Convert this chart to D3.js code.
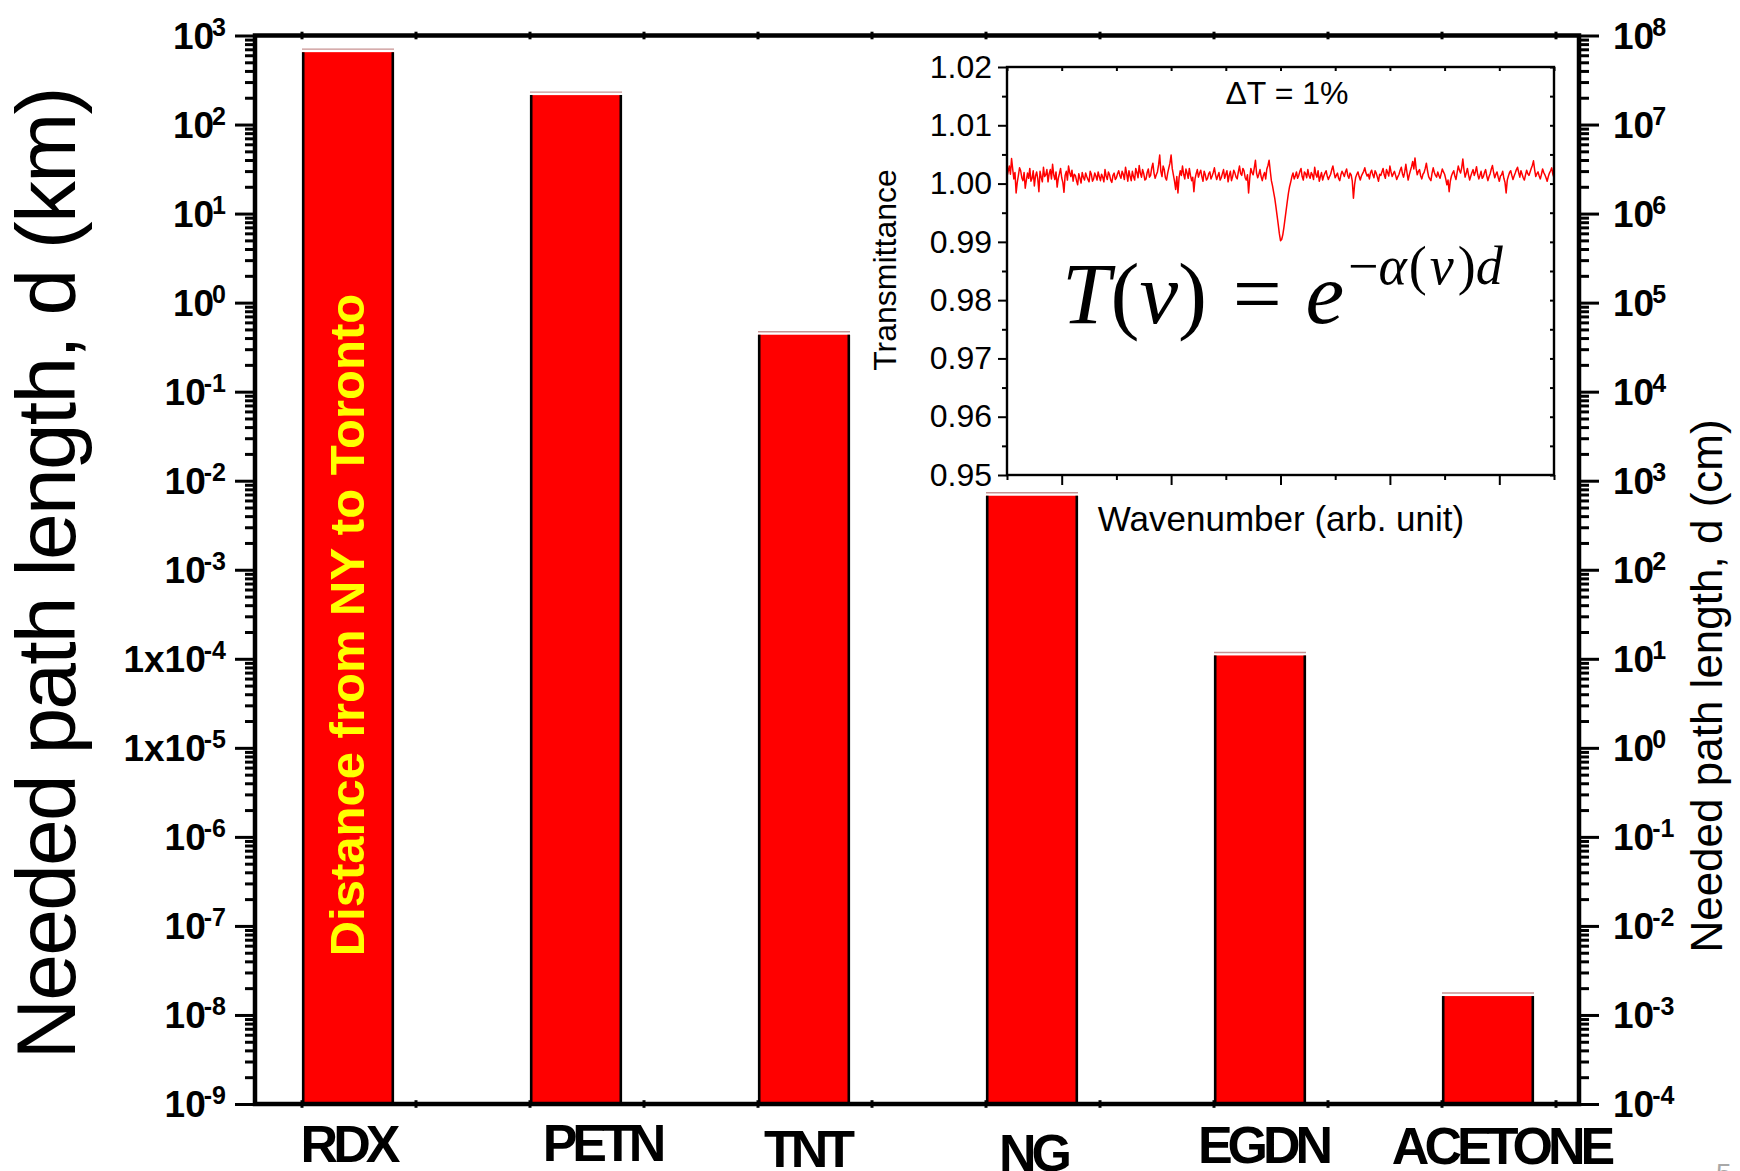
<!DOCTYPE html>
<html>
<head>
<meta charset="utf-8">
<script src="https://cdn.jsdelivr.net/npm/d3@7"></script>
<style>
  html, body { margin: 0; padding: 0; background: #ffffff; }
  svg { display: block; }
  text { font-family: "Liberation Sans", Arial, Helvetica, sans-serif; }
</style>
</head>
<body>
<svg id="chart" width="1740" height="1171"></svg>
<script>
// ---- data -------------------------------------------------------------
const compounds = ["RDX", "PETN", "TNT", "NG", "EGDN", "ACETONE"];
// needed path length d (km) for a 1% transmittance change
const pathLengthKm = [650, 214, 0.436, 0.00678, 1.09e-4, 1.63e-8];

const leftTickValues = [1e3, 1e2, 1e1, 1e0, 1e-1, 1e-2, 1e-3, 1e-4, 1e-5, 1e-6, 1e-7, 1e-8, 1e-9];
const leftTickBase = ["10", "10", "10", "10", "10", "10", "10", "1x10", "1x10", "10", "10", "10", "10"];
const leftTickExp = ["3", "2", "1", "0", "-1", "-2", "-3", "-4", "-5", "-6", "-7", "-8", "-9"];

const rightTickValues = [1e8, 1e7, 1e6, 1e5, 1e4, 1e3, 1e2, 1e1, 1e0, 1e-1, 1e-2, 1e-3, 1e-4];
const rightTickExp = ["8", "7", "6", "5", "4", "3", "2", "1", "0", "-1", "-2", "-3", "-4"];

const noteText = "Distance from NY to Toronto";

// inset: transmittance spectrum across the wavenumber window (arb. unit 0..10)
const insetYTicks = [0.95, 0.96, 0.97, 0.98, 0.99, 1.00, 1.01, 1.02];
const insetXTicks = [0, 1, 2, 3, 4, 5, 6, 7, 8, 9, 10];
const insetWavenumberSpan = [0, 10];
const insetTransmittance = [
  1.0012, 1.0021, 1.0030, 1.0016, 1.0043, 1.0025, 1.0008, 1.0019, 0.9984, 1.0002, 1.0014, 1.0027, 1.0022, 1.0010, 1.0005, 1.0019, 0.9992, 1.0006, 1.0018, 1.0009,
  1.0026, 1.0004, 1.0009, 1.0022, 0.9996, 1.0013, 1.0020, 1.0008, 0.9986, 1.0021, 1.0011, 1.0003, 1.0028, 1.0012, 1.0015, 1.0024, 1.0003, 1.0017, 1.0024, 1.0008,
  1.0033, 1.0015, 1.0007, 1.0020, 0.9994, 1.0009, 1.0017, 1.0026, 1.0010, 1.0002, 0.9985, 1.0014, 1.0021, 1.0006, 1.0030, 1.0019, 1.0012, 1.0023, 1.0004, 1.0016,
  1.0014, 1.0005, 0.9998, 1.0017, 1.0009, 1.0001, 1.0019, 1.0011, 1.0006, 1.0018, 1.0012, 1.0007, 1.0003, 1.0021, 1.0016, 1.0004, 1.0008, 1.0018, 1.0013, 1.0006,
  1.0020, 1.0012, 1.0005, 1.0016, 1.0011, 1.0003, 1.0024, 1.0013, 1.0007, 1.0020, 1.0015, 1.0006, 1.0002, 1.0014, 1.0018, 1.0007, 1.0010, 1.0017, 1.0022, 1.0014,
  1.0009, 1.0021, 1.0016, 1.0007, 1.0028, 1.0017, 1.0004, 1.0022, 1.0013, 1.0005, 1.0021, 1.0012, 1.0006, 1.0026, 1.0019, 1.0010, 1.0031, 1.0018, 1.0011, 1.0024,
  1.0017, 1.0006, 1.0008, 1.0019, 1.0025, 1.0011, 1.0014, 1.0027, 1.0035, 1.0018, 1.0009, 1.0015, 1.0020, 1.0032, 1.0049, 1.0021, 1.0012, 1.0030, 1.0024, 1.0010,
  1.0006, 1.0018, 1.0027, 1.0035, 1.0049, 1.0026, 1.0015, 1.0004, 0.9990, 1.0012, 0.9984, 1.0010, 1.0022, 1.0014, 1.0030, 1.0016, 1.0008, 1.0025, 1.0018, 1.0009,
  1.0026, 1.0014, 1.0005, 1.0011, 0.9986, 1.0008, 1.0017, 1.0024, 1.0011, 1.0018, 1.0023, 1.0012, 1.0004, 1.0021, 1.0015, 1.0006, 1.0009, 1.0017, 1.0020, 1.0008,
  1.0013, 1.0019, 1.0027, 1.0015, 1.0007, 1.0013, 1.0019, 1.0006, 1.0010, 1.0017, 1.0024, 1.0009, 1.0016, 1.0022, 1.0003, 1.0014, 1.0021, 1.0005, 1.0012, 1.0023,
  1.0018, 1.0011, 1.0008, 1.0020, 1.0030, 1.0017, 1.0014, 1.0026, 1.0022, 1.0010, 1.0006, 1.0015, 0.9984, 1.0009, 1.0026, 1.0019, 1.0015, 1.0027, 1.0040, 1.0018,
  1.0010, 1.0016, 1.0024, 1.0012, 1.0005, 1.0014, 1.0019, 1.0008, 1.0025, 1.0031, 1.0040, 1.0022, 1.0005, 0.9996, 0.9985, 0.9974, 0.9960, 0.9945, 0.9930, 0.9914,
  0.9902, 0.9904, 0.9912, 0.9925, 0.9940, 0.9955, 0.9970, 0.9984, 0.9995, 1.0003, 1.0012, 1.0018, 1.0008, 1.0013, 1.0020, 1.0009, 1.0014, 1.0021, 1.0026, 1.0012,
  1.0006, 1.0020, 1.0017, 1.0010, 1.0024, 1.0014, 1.0009, 1.0019, 1.0015, 1.0007, 1.0028, 1.0016, 1.0011, 1.0022, 1.0004, 1.0012, 1.0019, 1.0006, 1.0013, 1.0018,
  1.0022, 1.0013, 1.0007, 1.0012, 1.0016, 1.0024, 1.0030, 1.0019, 1.0010, 1.0014, 1.0018, 1.0009, 1.0005, 1.0015, 1.0021, 1.0017, 1.0012, 1.0020, 1.0025, 1.0014,
  1.0009, 1.0018, 1.0015, 1.0004, 0.9975, 0.9998, 1.0011, 1.0016, 1.0020, 1.0012, 1.0006, 1.0013, 1.0017, 1.0021, 1.0027, 1.0018, 1.0013, 1.0016, 1.0008, 1.0019,
  1.0023, 1.0015, 1.0010, 1.0022, 1.0018, 1.0011, 1.0004, 1.0016, 1.0014, 1.0020, 1.0026, 1.0015, 1.0009, 1.0024, 1.0019, 1.0013, 1.0030, 1.0020, 1.0012, 1.0017,
  1.0021, 1.0014, 1.0007, 1.0012, 1.0016, 1.0023, 1.0028, 1.0017, 1.0011, 1.0020, 1.0033, 1.0019, 1.0006, 1.0015, 1.0022, 1.0029, 1.0038, 1.0025, 1.0044, 1.0026,
  1.0015, 1.0021, 1.0024, 1.0013, 1.0008, 1.0016, 1.0019, 1.0026, 1.0035, 1.0022, 1.0012, 1.0008, 1.0005, 1.0018, 1.0027, 1.0019, 1.0014, 1.0011, 1.0020, 1.0014,
  1.0009, 1.0017, 1.0025, 1.0020, 1.0016, 1.0008, 0.9998, 1.0006, 0.9986, 1.0004, 1.0013, 1.0018, 1.0022, 1.0013, 1.0007, 1.0019, 1.0030, 1.0023, 1.0018, 1.0027,
  1.0042, 1.0024, 1.0011, 1.0018, 1.0026, 1.0015, 1.0006, 1.0013, 1.0019, 1.0024, 1.0014, 1.0020, 1.0029, 1.0016, 1.0008, 1.0014, 1.0021, 1.0009, 1.0012, 1.0019,
  1.0024, 1.0013, 1.0005, 1.0012, 1.0017, 1.0025, 1.0031, 1.0019, 1.0010, 1.0016, 1.0020, 1.0011, 1.0004, 1.0013, 1.0015, 1.0021, 1.0009, 1.0002, 0.9984, 1.0006,
  1.0013, 1.0019, 1.0022, 1.0014, 1.0007, 1.0013, 1.0018, 1.0024, 1.0028, 1.0019, 1.0011, 1.0022, 1.0016, 1.0010, 1.0006, 1.0015, 1.0023, 1.0017, 1.0014, 1.0020,
  1.0026, 1.0031, 1.0039, 1.0024, 1.0012, 1.0017, 1.0020, 1.0013, 1.0008, 1.0016, 1.0025, 1.0019, 1.0015, 1.0010, 1.0004, 1.0012, 1.0018, 1.0022, 1.0027, 1.0016,
  1.0010
];

// ---- layout -----------------------------------------------------------
const svg = d3.select("#chart");
const plot = { left: 255, right: 1579, top: 35.5, bottom: 1104 };
const labelNudge = [
  { dx: 0, base: 1162 }, { dx: 26, base: 1161 }, { dx: 3, base: 1167 },
  { dx: 1, base: 1171 }, { dx: 3, base: 1163 }, { dx: 13, base: 1164 }
];

const x = d3.scaleBand().domain(compounds).range([234, 1602])
  .paddingInner(0.5965).paddingOuter(0.29825);
const y = d3.scaleLog().domain([1e-9, 1e3]).range([plot.bottom, plot.top]);
const yCm = d3.scaleLog().domain([1e-4, 1e8]).range([plot.bottom, plot.top]);

// minor tick positions (2..9 within each decade)
function minorTicks(lo, hi) {
  const out = [];
  for (let e = lo; e < hi; e++) for (let m = 2; m <= 9; m++) out.push(m * Math.pow(10, e));
  return out;
}

// ---- bars -------------------------------------------------------------
const bars = svg.append("g").attr("class", "bars");
const barData = compounds.map((c, i) => ({ c, v: pathLengthKm[i] }));

bars.selectAll("rect.bar").data(barData).join("rect")
  .attr("class", "bar")
  .attr("x", d => x(d.c))
  .attr("y", d => y(d.v))
  .attr("width", x.bandwidth())
  .attr("height", d => plot.bottom - y(d.v))
  .attr("fill", "#ff0000");

// dark side edges
bars.selectAll("line.edgeL").data(barData).join("line")
  .attr("x1", d => x(d.c) + 1.2).attr("x2", d => x(d.c) + 1.2)
  .attr("y1", d => y(d.v)).attr("y2", plot.bottom)
  .attr("stroke", "#000").attr("stroke-width", 2.6);
bars.selectAll("line.edgeR").data(barData).join("line")
  .attr("x1", d => x(d.c) + x.bandwidth() - 1.2).attr("x2", d => x(d.c) + x.bandwidth() - 1.2)
  .attr("y1", d => y(d.v)).attr("y2", plot.bottom)
  .attr("stroke", "#000").attr("stroke-width", 2.6);
// faint cap line over each bar
bars.selectAll("line.cap").data(barData).join("line")
  .attr("x1", d => x(d.c)).attr("x2", d => x(d.c) + x.bandwidth())
  .attr("y1", d => y(d.v) - 3).attr("y2", d => y(d.v) - 3)
  .attr("stroke", "#c89292").attr("stroke-width", 1.4);

// annotation inside the RDX bar
svg.append("text")
  .attr("transform", `translate(${x("RDX") + x.bandwidth() / 2 + 16},${(y(pathLengthKm[0]) + plot.bottom) / 2 + 47}) rotate(-90)`)
  .attr("text-anchor", "middle")
  .style("font-size", "49px").style("font-weight", "bold")
  .attr("fill", "#ffff00")
  .text(noteText);

// ---- axes -------------------------------------------------------------
const leftAxis = svg.append("g").attr("transform", `translate(${plot.left},0)`);
leftAxis.call(d3.axisLeft(y).tickValues(leftTickValues).tickSize(20).tickSizeOuter(0).tickFormat(""));
leftAxis.append("g").call(d3.axisLeft(y).tickValues(minorTicks(-9, 3)).tickSize(10).tickSizeOuter(0).tickFormat(""));
leftAxis.selectAll(".domain").remove();
leftAxis.selectAll(".tick line").attr("stroke", "#000").attr("stroke-width", 3);

const rightAxis = svg.append("g").attr("transform", `translate(${plot.right},0)`);
rightAxis.call(d3.axisRight(yCm).tickValues(rightTickValues).tickSize(20).tickSizeOuter(0).tickFormat(""));
rightAxis.append("g").call(d3.axisRight(yCm).tickValues(minorTicks(-4, 8)).tickSize(10).tickSizeOuter(0).tickFormat(""));
rightAxis.selectAll(".domain").remove();
rightAxis.selectAll(".tick line").attr("stroke", "#000").attr("stroke-width", 3);

// tick labels with superscript exponents
const leftLabels = svg.append("g").style("font-weight", "bold");
leftTickValues.forEach((v, i) => {
  const t = leftLabels.append("text")
    .attr("x", 226).attr("y", y(v) + 13)
    .attr("text-anchor", "end");
  t.append("tspan").style("font-size", "37px").text(leftTickBase[i]);
  t.append("tspan").style("font-size", "25px").attr("dy", -13).attr("dx", -2).text(leftTickExp[i]);
});
const rightLabels = svg.append("g").style("font-weight", "bold");
rightTickValues.forEach((v, i) => {
  const t = rightLabels.append("text")
    .attr("x", 1613).attr("y", yCm(v) + 13)
    .attr("text-anchor", "start");
  t.append("tspan").style("font-size", "37px").text("10");
  t.append("tspan").style("font-size", "25px").attr("dy", -13).attr("dx", -2).text(rightTickExp[i]);
});

// frame
svg.append("rect")
  .attr("x", plot.left).attr("y", plot.top)
  .attr("width", plot.right - plot.left).attr("height", plot.bottom - plot.top)
  .attr("fill", "none").attr("stroke", "#000").attr("stroke-width", 4.5);

// small category ticks along top and bottom edges
const catTicks = [];
compounds.forEach(c => { catTicks.push(x(c)); catTicks.push(x(c) + x.step() / 2); });
[plot.top, plot.bottom].forEach(yy => {
  svg.append("g").selectAll("line").data(catTicks).join("line")
    .attr("x1", d => d).attr("x2", d => d)
    .attr("y1", yy - 3.8).attr("y2", yy + 3.8)
    .attr("stroke", "#000").attr("stroke-width", 3);
});

// category labels
svg.append("g").selectAll("text").data(compounds).join("text")
  .attr("x", (d, i) => x(d) + x.bandwidth() / 2 + labelNudge[i].dx)
  .attr("y", (d, i) => labelNudge[i].base)
  .attr("text-anchor", "middle")
  .style("font-size", "52px").style("font-weight", "bold")
  .style("letter-spacing", "-5px")
  .text(d => d);

// axis titles
svg.append("text")
  .attr("transform", "translate(75,574) rotate(-90)")
  .attr("text-anchor", "middle")
  .style("font-size", "84px").style("letter-spacing", "-1.8px")
  .text("Needed path length, d (km)");
svg.append("text")
  .attr("transform", "translate(1722,686) rotate(-90)")
  .attr("text-anchor", "middle")
  .style("font-size", "44px")
  .text("Needed path length, d (cm)");

// page number peeking at the bottom edge
svg.append("text").attr("x", 1716).attr("y", 1183)
  .style("font-size", "28px").attr("fill", "#a8a8a8").text("5");

// ---- inset ------------------------------------------------------------
const ins = { left: 1007, right: 1554, top: 67, bottom: 475 };
const ix = d3.scaleLinear().domain(insetWavenumberSpan).range([ins.left, ins.right]);
const iy = d3.scaleLinear().domain([0.95, 1.02]).range([ins.bottom, ins.top]);
const inset = svg.append("g").attr("class", "inset");

const step = (insetWavenumberSpan[1] - insetWavenumberSpan[0]) / (insetTransmittance.length - 1);
const line = d3.line()
  .x((d, i) => ix(insetWavenumberSpan[0] + i * step))
  .y(d => iy(d));
inset.append("path")
  .datum(insetTransmittance)
  .attr("d", line)
  .attr("fill", "none").attr("stroke", "#ff0000")
  .attr("stroke-width", 1.5).attr("stroke-linejoin", "round");

const insetMinorY = [0.955, 0.965, 0.975, 0.985, 0.995, 1.005, 1.015];
const iLeft = inset.append("g").attr("transform", `translate(${ins.left},0)`);
iLeft.call(d3.axisLeft(iy).tickValues(insetYTicks).tickSize(9).tickPadding(6).tickFormat(d3.format(".2f")));
iLeft.append("g").call(d3.axisLeft(iy).tickValues(insetMinorY).tickSize(5).tickFormat(""));
iLeft.selectAll(".domain").remove();
iLeft.selectAll("text").style("font-size", "32px").style("font-family", "'Liberation Sans', Arial, sans-serif").attr("fill", "#000");

const iRight = inset.append("g").attr("transform", `translate(${ins.right},0)`);
iRight.call(d3.axisRight(iy).tickValues(insetYTicks.concat(insetMinorY)).tickSize(-4).tickFormat(""));
iRight.selectAll(".domain").remove();

const iBottom = inset.append("g").attr("transform", `translate(0,${ins.bottom})`);
iBottom.call(d3.axisBottom(ix).tickValues(insetXTicks.filter(v => v % 2 === 1)).tickSize(10).tickFormat(""));
iBottom.append("g").call(d3.axisBottom(ix).tickValues(insetXTicks.filter(v => v % 2 === 0)).tickSize(5).tickFormat(""));
iBottom.selectAll(".domain").remove();

const iTop = inset.append("g").attr("transform", `translate(0,${ins.top})`);
iTop.call(d3.axisTop(ix).tickValues(insetXTicks).tickSize(-4).tickFormat(""));
iTop.selectAll(".domain").remove();

inset.selectAll(".tick line").attr("stroke", "#000").attr("stroke-width", 2);

inset.append("rect")
  .attr("x", ins.left).attr("y", ins.top)
  .attr("width", ins.right - ins.left).attr("height", ins.bottom - ins.top)
  .attr("fill", "none").attr("stroke", "#000").attr("stroke-width", 2.4);

inset.append("text")
  .attr("transform", "translate(896,270) rotate(-90)")
  .attr("text-anchor", "middle")
  .style("font-size", "32px")
  .text("Transmittance");
inset.append("text")
  .attr("x", 1281).attr("y", 531).attr("text-anchor", "middle")
  .style("font-size", "35px")
  .text("Wavenumber (arb. unit)");
inset.append("text")
  .attr("x", 1287).attr("y", 104).attr("text-anchor", "middle")
  .style("font-size", "32px")
  .text("\u0394T = 1%");

// Beer-Lambert relation
const serif = "'Liberation Serif', 'Times New Roman', Times, serif";
const f = inset.append("text").attr("x", 1062).attr("y", 323)
  .style("font-family", serif).style("font-size", "87px");
f.append("tspan").style("font-style", "italic").text("T");
f.append("tspan").text("(");
f.append("tspan").style("font-style", "italic").text("\u03BD");
f.append("tspan").text(")");
f.append("tspan").attr("dx", 4).text(" = ");
f.append("tspan").attr("dx", 2).style("font-style", "italic").text("e");

const fs = inset.append("text").attr("x", 1348).attr("y", 284)
  .style("font-family", serif).style("font-size", "54px");
fs.append("tspan").text("\u2212");
fs.append("tspan").style("font-style", "italic").text("\u03B1");
fs.append("tspan").attr("dx", 2).text("(");
fs.append("tspan").attr("dx", 3).style("font-style", "italic").text("\u03BD");
fs.append("tspan").attr("dx", 4).text(")");
fs.append("tspan").style("font-style", "italic").text("d");
</script>
</body>
</html>
